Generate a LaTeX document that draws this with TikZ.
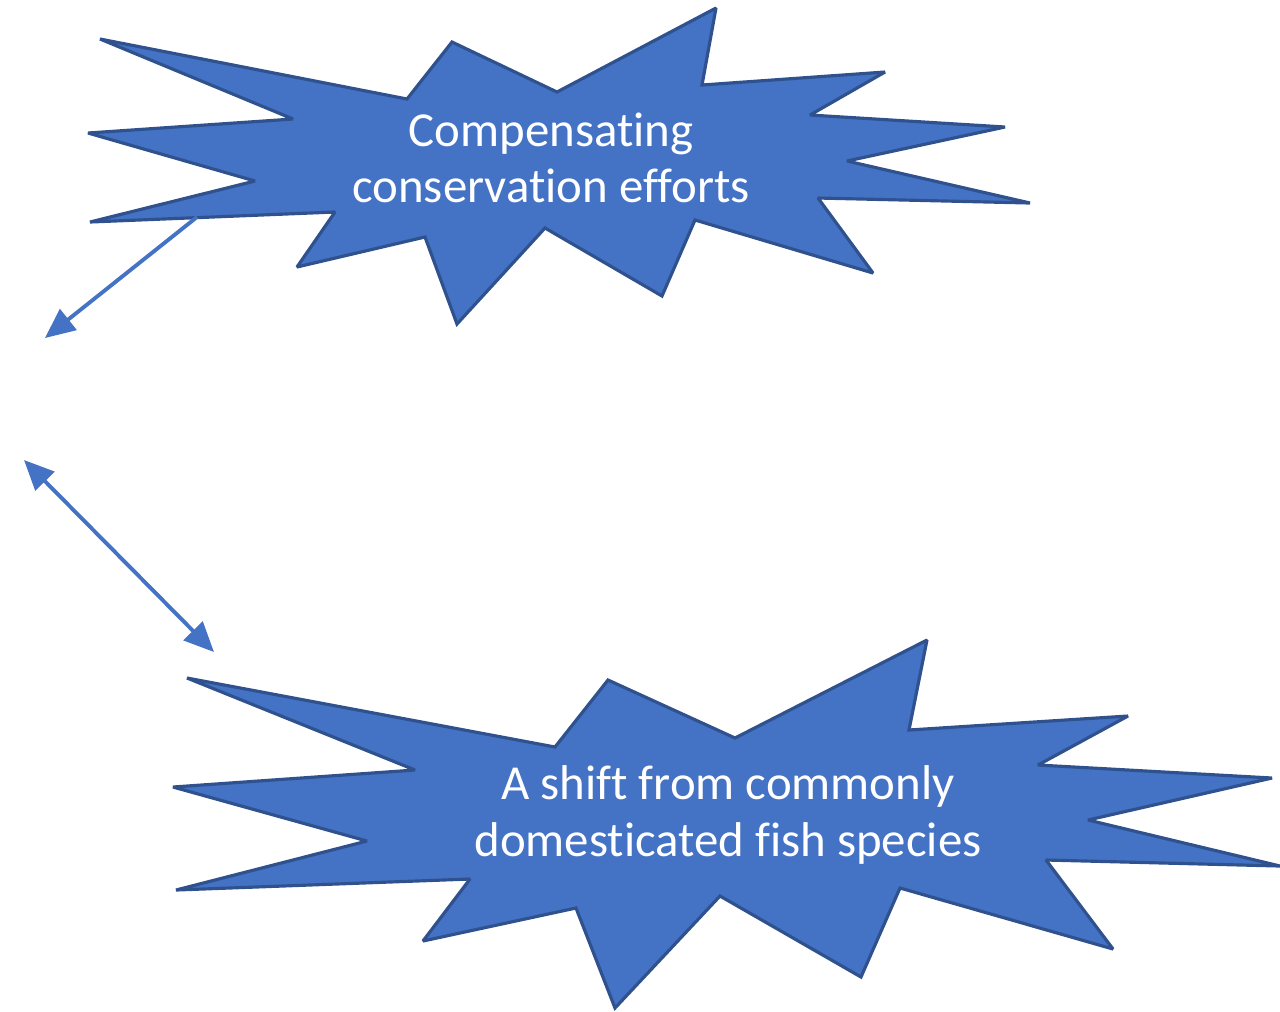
\documentclass[tikz,border=0pt]{standalone}
\usepackage{fontspec}
\setmainfont[Ligatures={NoCommon}]{Carlito}
\usetikzlibrary{arrows.meta}

\definecolor{boomfill}{HTML}{4472C4}
\definecolor{boomline}{HTML}{2F528F}

\tikzset{
  boom/.style={fill=boomfill, draw=boomline, line width=0.9pt, line join=miter, miter limit=2},
  boomtext/.style={text=white, font=\fontsize{13.9}{16}\selectfont, align=center},
  link/.style={draw=boomfill, line width=1.1pt, -{Triangle[length=8.5pt,width=7.5pt]}},
  twolink/.style={draw=boomfill, line width=1.1pt, {Triangle[length=8.5pt,width=7.5pt]}-{Triangle[length=8.5pt,width=7.5pt]}}
}

\begin{document}
\begin{tikzpicture}[x=0.1mm, y=-0.1mm]
      \useasboundingbox (0,0) rectangle (1280,1011);

      % upper explosion
      \draw [boom]
      (100,39) -- (407,99) -- (452,42) -- (557,92) -- (716,8) -- (702,85)
      -- (885,72) -- (810,115) -- (1005,127) -- (847,161) -- (1030,203)
      -- (818,198) -- (873,273) -- (695,220) -- (662,296) -- (545,228)
      -- (457,324) -- (425,237) -- (297,267) -- (335,212) -- (90,222)
      -- (255,181) -- (88,133) -- (293,119) -- cycle;

      % lower explosion
      \draw [boom]
      (187,678) -- (555,747) -- (608,680) -- (735,738) -- (927,640)
      -- (909,730) -- (1128,716) -- (1038,765) -- (1272,778) -- (1088,820)
      -- (1280,866) -- (1046,860) -- (1113,949) -- (900,888) -- (861,977)
      -- (720,896) -- (615,1008) -- (576,908) -- (423,941) -- (470,879)
      -- (176,890) -- (367,841) -- (173,787) -- (415,770) -- cycle;

      \node [boomtext] (conservation) at (551,158)
        {Compensating\\conservation efforts};
      \node [boomtext] (shift) at (728,815)
        {A shift from commonly\\domesticated fish species};

      \coordinate (upperfoot) at (197,217);
      \coordinate (upperend) at (45,338);
      \coordinate (midend) at (24,460);
      \coordinate (lowerend) at (214,652);

      \draw [link] (upperfoot) -- (upperend);
      \draw [twolink] (midend) -- (lowerend);

    \end{tikzpicture}
\end{document}
